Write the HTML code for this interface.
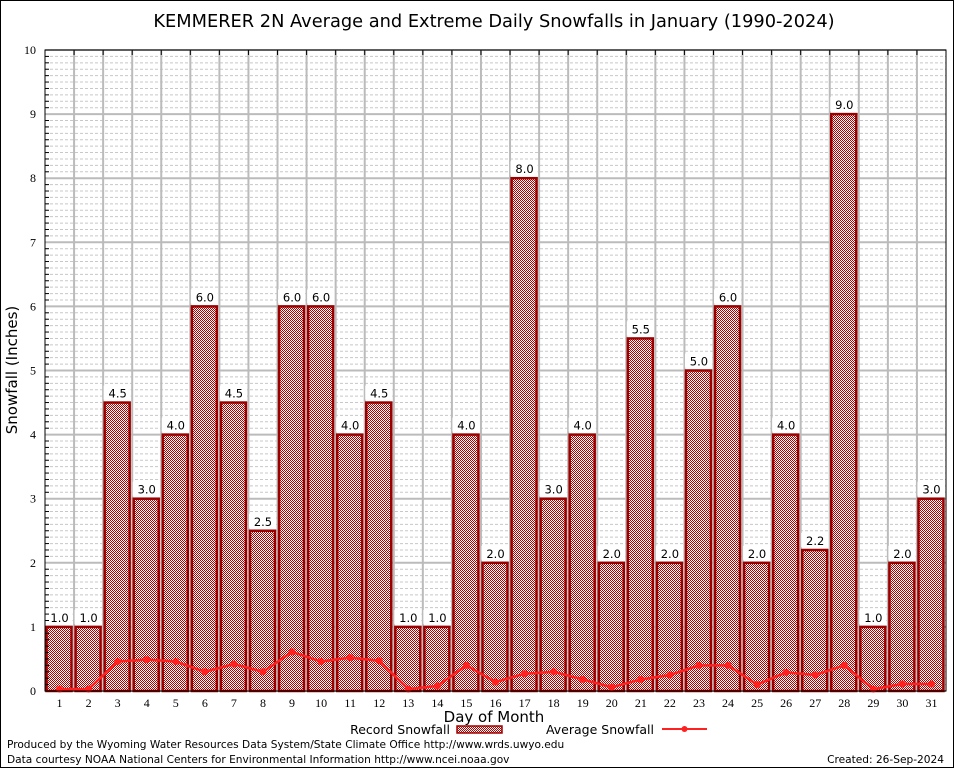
<!DOCTYPE html>
<html><head><meta charset="utf-8"><style>
body{margin:0;background:#fff;}
svg{display:block;font-family:"DejaVu Sans","Liberation Sans",sans-serif;}
</style></head><body>
<svg id="chart" width="954" height="768" viewBox="0 0 954 768">
<defs>
<pattern id="chk" width="2" height="2" patternUnits="userSpaceOnUse">
<rect width="2" height="2" fill="#fff"/>
<rect width="1" height="1" fill="#b00000"/>
<rect x="1" y="1" width="1" height="1" fill="#b00000"/>
</pattern>
</defs>
<rect x="0.5" y="0.5" width="953" height="767" fill="#fff" stroke="#000"/>
<text x="494" y="27" font-size="17.8" text-anchor="middle">KEMMERER 2N Average and Extreme Daily Snowfalls in January (1990-2024)</text>
<g id="grid"></g>
<g id="bars"></g>
<g id="avg"></g>
<g id="axes"></g>
<text x="17" y="370" font-size="15" text-anchor="middle" transform="rotate(-90 17 370)">Snowfall (Inches)</text>
<text x="494" y="722" font-size="15" text-anchor="middle">Day of Month</text>
<g>
<text x="450" y="734" font-size="12.5" text-anchor="end">Record Snowfall</text>
<rect x="457" y="726" width="45" height="7" fill="url(#chk)" stroke="#a00000" stroke-width="1.5"/>
<text x="654" y="734" font-size="12.5" text-anchor="end">Average Snowfall</text>
<line x1="662" y1="729" x2="707" y2="729" stroke="#ff2020" stroke-width="2"/>
<circle cx="684.5" cy="729" r="3" fill="#ff2020"/>
</g>
<text x="7" y="748" font-size="10.6">Produced by the Wyoming Water Resources Data System/State Climate Office http://www.wrds.uwyo.edu</text>
<text x="7" y="763" font-size="10.6">Data courtesy NOAA National Centers for Environmental Information http://www.ncei.noaa.gov</text>
<text x="944" y="763" font-size="10.6" text-anchor="end">Created: 26-Sep-2024</text>
</svg>
<script>
const days = [1,2,3,4,5,6,7,8,9,10,11,12,13,14,15,16,17,18,19,20,21,22,23,24,25,26,27,28,29,30,31];
const recordSnow = [1.0,1.0,4.5,3.0,4.0,6.0,4.5,2.5,6.0,6.0,4.0,4.5,1.0,1.0,4.0,2.0,8.0,3.0,4.0,2.0,5.5,2.0,5.0,6.0,2.0,4.0,2.2,9.0,1.0,2.0,3.0];
const recordLabels = ["1.0","1.0","4.5","3.0","4.0","6.0","4.5","2.5","6.0","6.0","4.0","4.5","1.0","1.0","4.0","2.0","8.0","3.0","4.0","2.0","5.5","2.0","5.0","6.0","2.0","4.0","2.2","9.0","1.0","2.0","3.0"];
const avgSnow = [0.03,0.03,0.46,0.49,0.46,0.30,0.42,0.30,0.61,0.46,0.52,0.47,0.03,0.08,0.40,0.14,0.27,0.30,0.18,0.06,0.18,0.25,0.40,0.40,0.10,0.29,0.25,0.40,0.03,0.11,0.11];
const yTicks = [0,1,2,3,4,5,6,7,8,9,10];

const NS="http://www.w3.org/2000/svg";
const L=45,R=946,T=50,B=691,yMax=10;
const cw=(R-L)/days.length;
const xCenter=i=>L+cw*(i+0.5);
const yPos=v=>B-(v/yMax)*(B-T);
function mk(tag,attrs,parent){const e=document.createElementNS(NS,tag);for(const k in attrs)e.setAttribute(k,attrs[k]);parent.appendChild(e);return e;}
const grid=document.getElementById('grid'),bars=document.getElementById('bars'),avg=document.getElementById('avg'),axes=document.getElementById('axes');

for(let v=0;v<=yMax*10;v++){
  if(v%10===0)continue;
  const y=yPos(v/10);
  const l=mk('line',{x1:L,x2:R,y1:y,y2:y,stroke:'#c8c8c8','stroke-width':1,'stroke-dasharray':'3,2'},grid);
  
  
  const t=mk('line',{x1:L,x2:L+4,y1:y,y2:y,stroke:'#000'},axes);
  
  
}
yTicks.forEach(v=>{
  const y=yPos(v);
  const l=mk('line',{x1:L,x2:R,y1:y,y2:y,stroke:'#bbb','stroke-width':2},grid);
  
  
  const t=mk('text',{x:L-9,y:y+4,'font-size':12,'text-anchor':'end','font-family':'Liberation Serif,serif'},axes);
  t.textContent=v;
  
  
});
for(let i=1;i<days.length;i++){
  const x=L+cw*i;
  const l=mk('line',{x1:x,x2:x,y1:T,y2:B,stroke:'#bbb','stroke-width':2},grid);
  
  
  const t=mk('line',{x1:x,x2:x,y1:T,y2:T+5,stroke:'#000'},axes);
  
  
}
days.forEach((d,i)=>{
  const x=xCenter(i);
  const yt=yPos(recordSnow[i]);
  const b=mk('rect',{x:x-13,y:yt,width:25,height:B-yt,fill:'url(#chk)',stroke:'#9a0000','stroke-width':2.5},bars);
  
  
  const bg=mk('rect',{x:x-14,y:yt-17,width:27,height:14,fill:'#fff'},bars);
  
  
  const lb=mk('text',{x:x,y:yt-5,'font-size':11.5,'text-anchor':'middle'},bars);
  lb.textContent=recordLabels[i];
  
  
  const xl=mk('text',{x:x,y:B+16,'font-size':12,'text-anchor':'middle','font-family':'Liberation Serif,serif'},axes);
  xl.textContent=d;
  
  
});
const pts=avgSnow.map((v,i)=>xCenter(i)+','+yPos(v)).join(' ');
const pl=mk('polyline',{points:pts,fill:'none',stroke:'#ff2020','stroke-width':2.5},avg);


avgSnow.forEach((v,i)=>{
  const c=mk('circle',{cx:xCenter(i),cy:yPos(v),r:3.5,fill:'#ff2020'},avg);
  
  
});
const fr=mk('rect',{x:L,y:T,width:R-L,height:B-T,fill:'none',stroke:'#000','stroke-width':1},axes);


</script>
</body></html>
